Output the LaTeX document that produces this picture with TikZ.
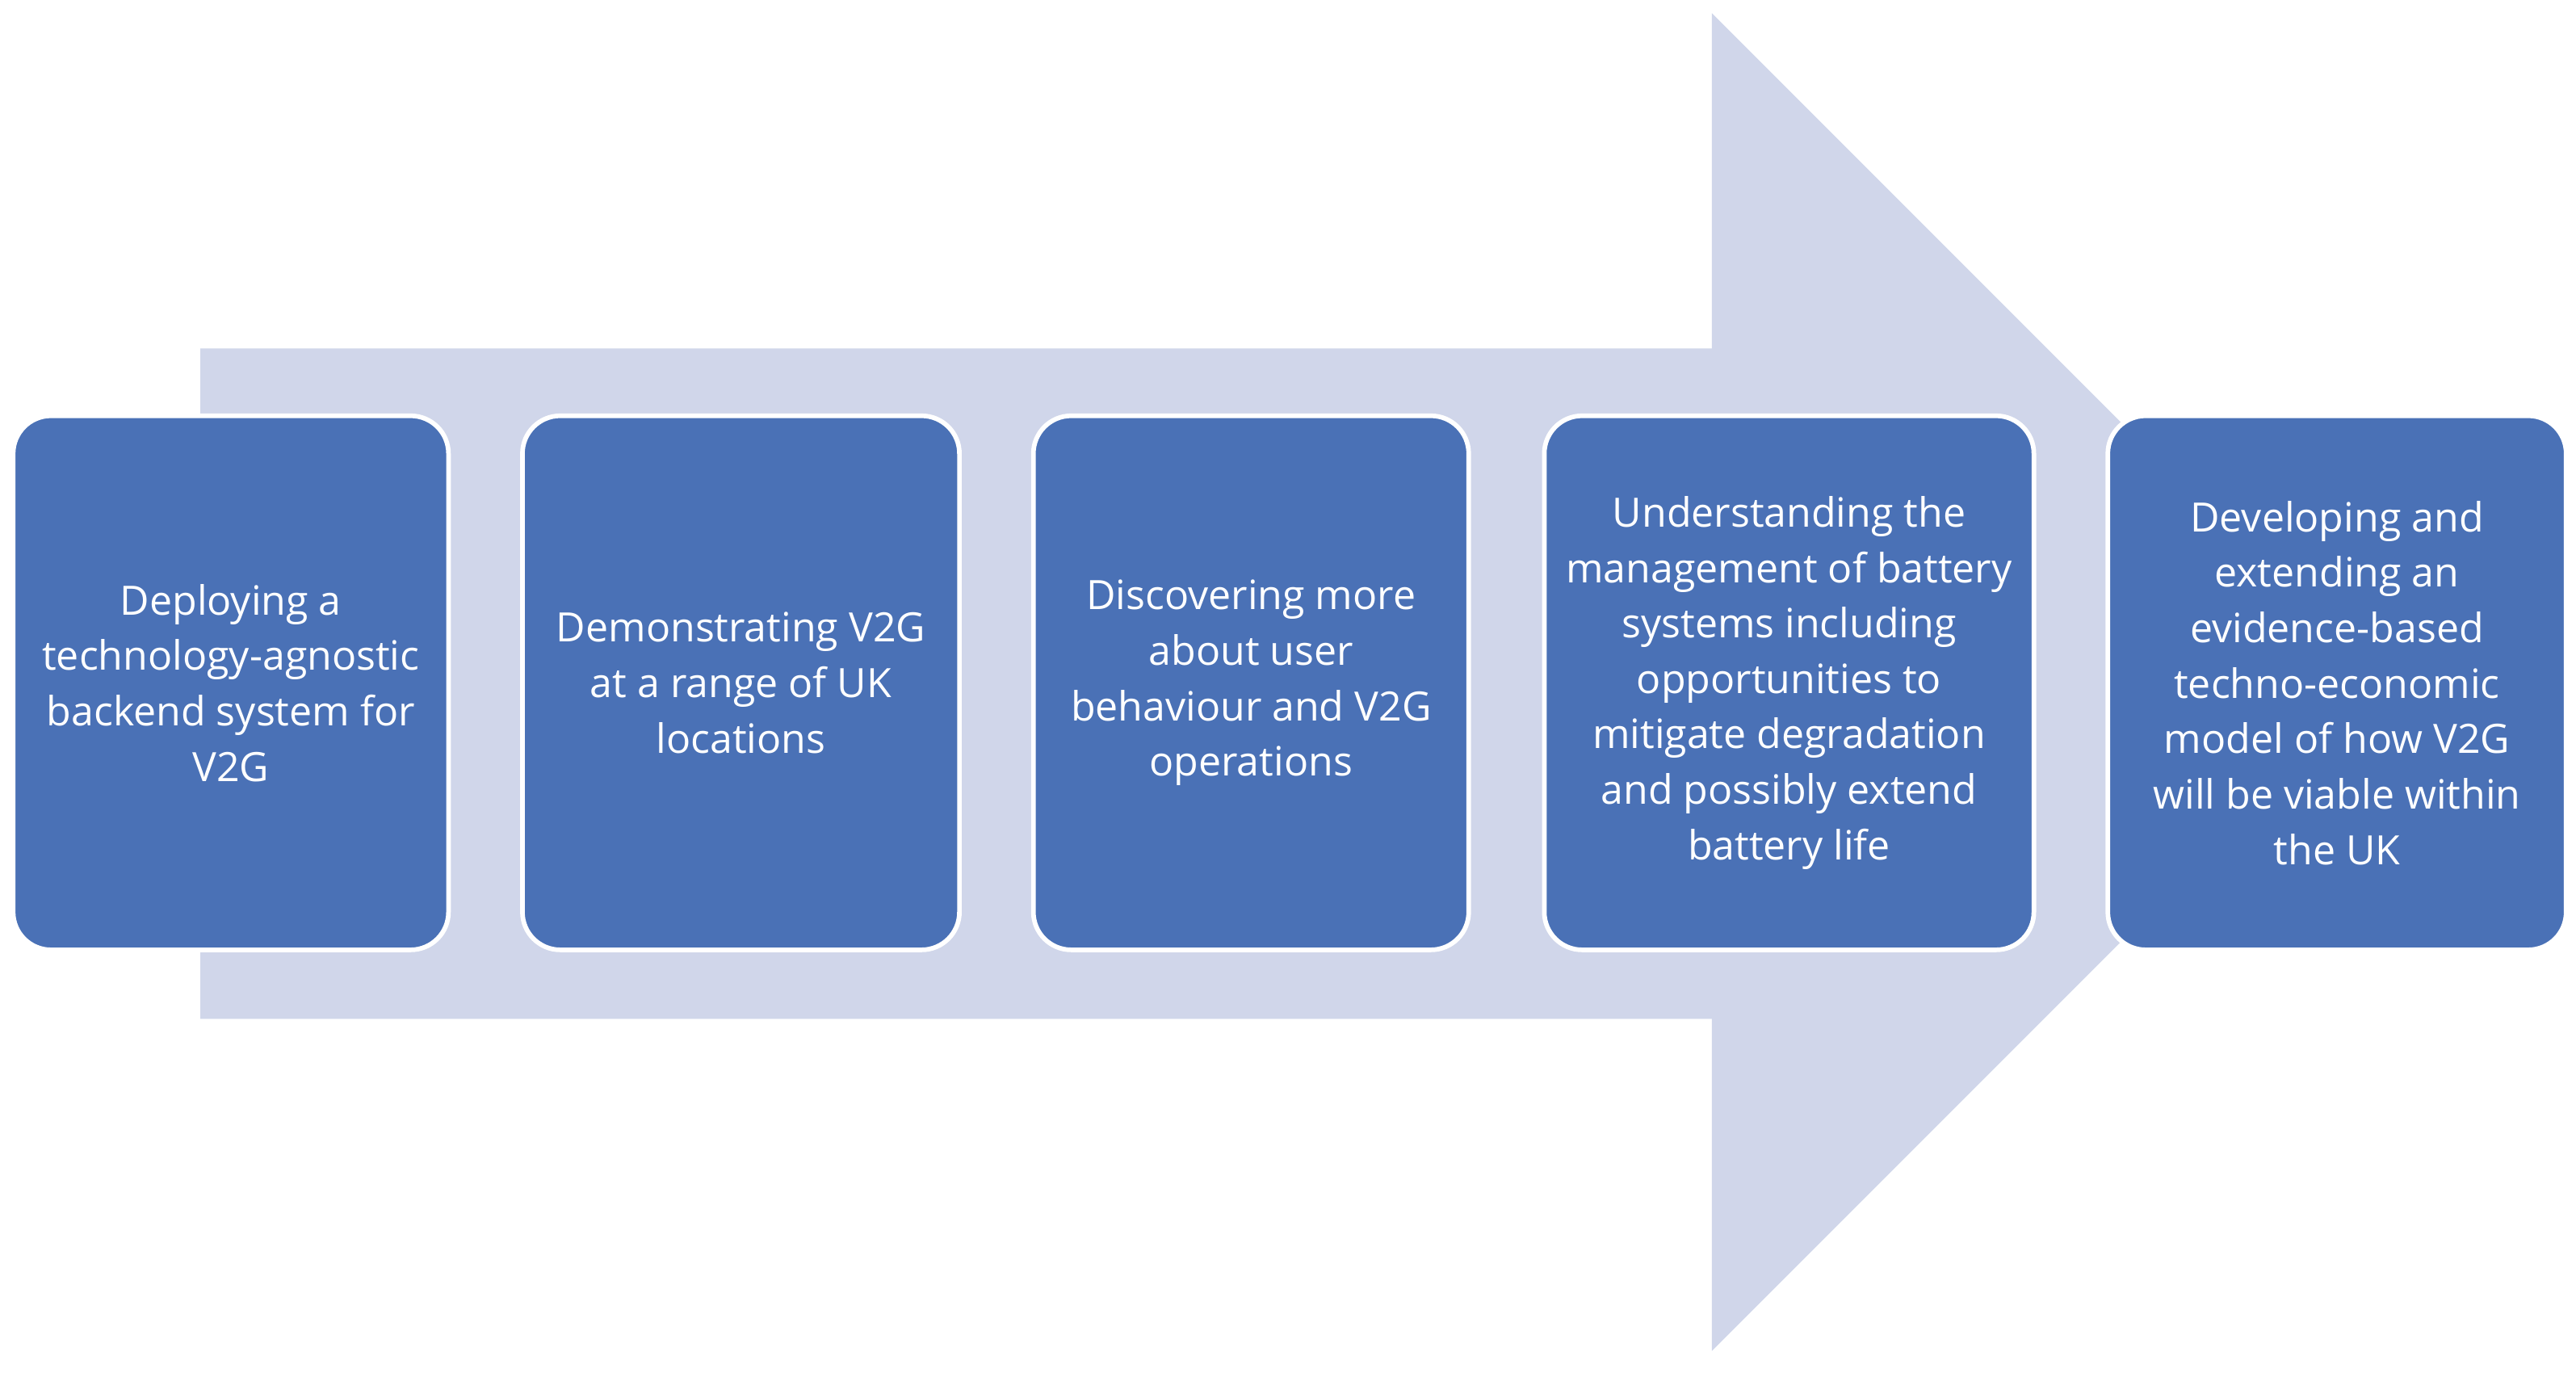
\documentclass[tikz,border=0pt]{standalone}
\usepackage{fontspec}
\setmainfont{Open Sans}
\definecolor{arrowc}{HTML}{D0D6EA}
\definecolor{boxc}{HTML}{4A71B6}
\begin{document}
\begin{tikzpicture}[x=0.05cm,y=-0.05cm,
  box/.style={draw=white,line width=4pt,fill=boxc,rounded corners=1.15cm,text=white,align=center,inner sep=0pt,
    font=\fontsize{35}{48}\selectfont}]
\useasboundingbox (0,0) rectangle (1568,836);
\fill[arrowc] (122,212) -- (1042,212) -- (1042,8) -- (1449,415) -- (1042,822) -- (1042,620) -- (122,620) -- cycle;
\node[box,minimum width=13.25cm,minimum height=16.25cm] (b1) at (140.5,415.5) {Deploying a\\technology-agnostic\\backend system for\\V2G};
\node[box,minimum width=13.3cm,minimum height=16.25cm] (b2) at (451,415.5) {Demonstrating V2G\\at a range of UK\\locations};
\node[box,minimum width=13.25cm,minimum height=16.25cm] (b3) at (761.5,415.5) {Discovering more\\about user\\behaviour and V2G\\operations};
\node[box,minimum width=14.9cm,minimum height=16.25cm] (b4) at (1089,415.5) {Understanding the\\management of battery\\systems including\\opportunities to\\mitigate degradation\\and possibly extend\\battery life};
\node[box,minimum width=13.95cm,minimum height=16.25cm] (b5) at (1422.5,415.5) {Developing and\\extending an\\evidence-based\\techno-economic\\model of how V2G\\will be viable within\\the UK};
\end{tikzpicture}
\end{document}
